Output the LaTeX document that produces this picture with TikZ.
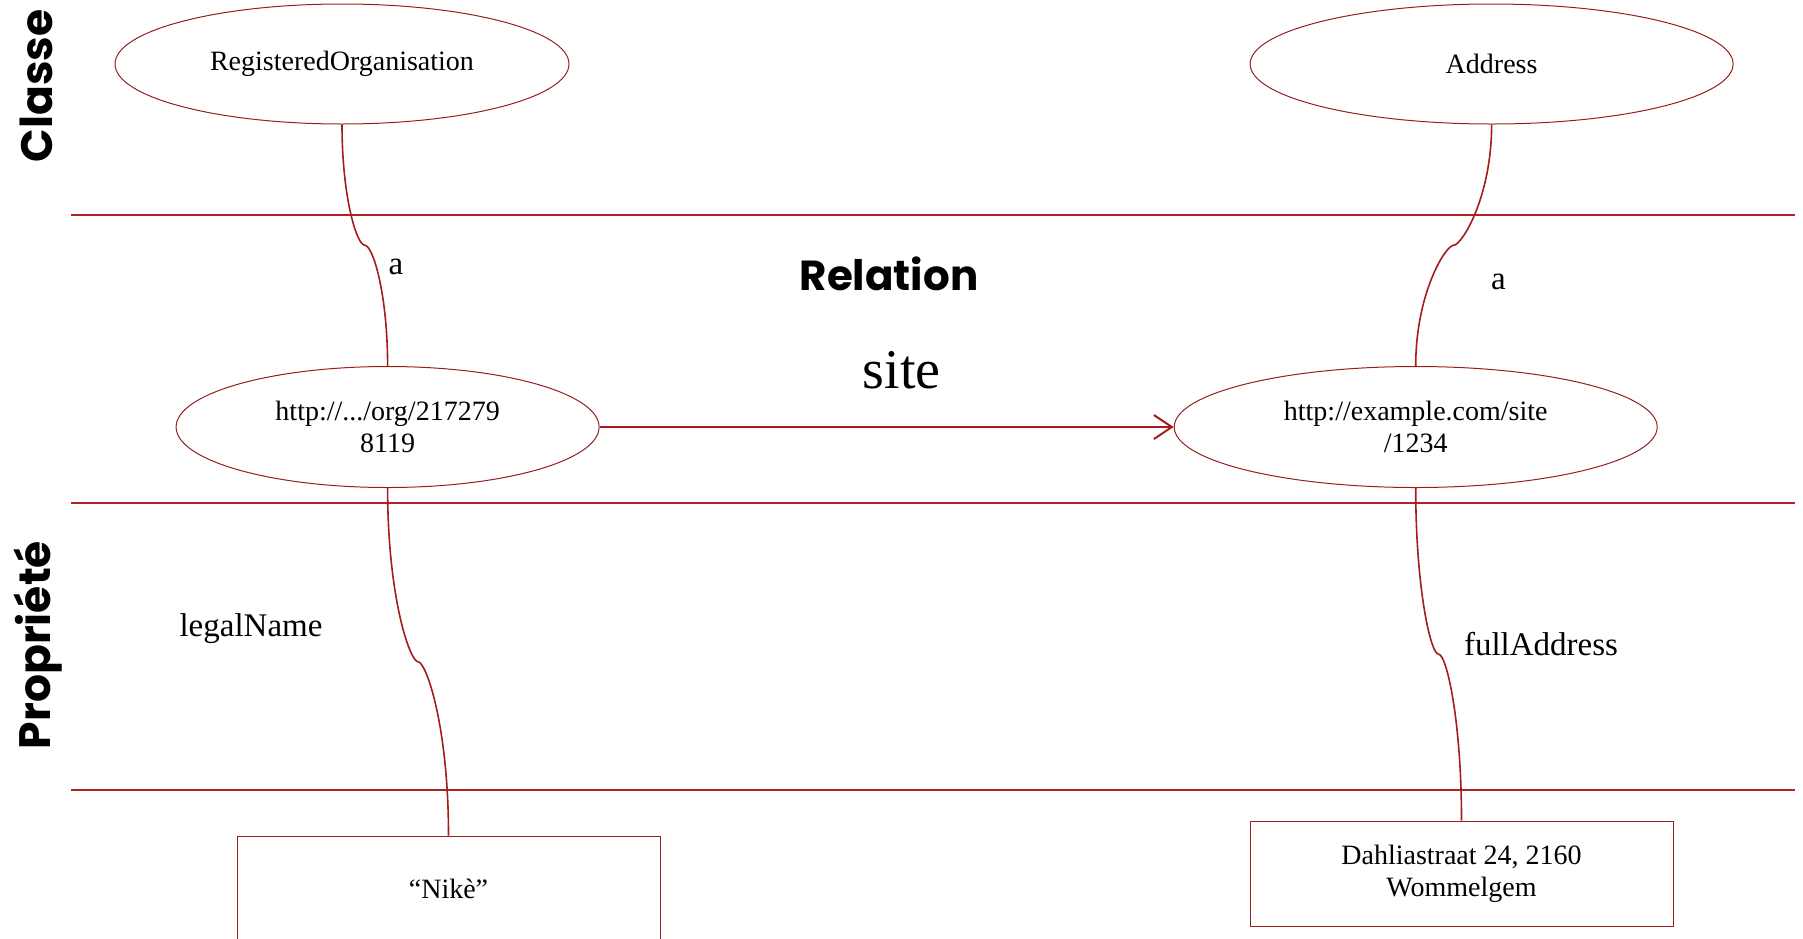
\documentclass[tikz,border=0pt]{standalone}
\usepackage{fontspec}
\setmainfont{Liberation Serif}
\newfontfamily\handfont{Poppins}
\usetikzlibrary{shapes.geometric,arrows.meta,calc}
\definecolor{sepred}{RGB}{178,34,34}
\definecolor{edgered}{RGB}{150,30,30}
\definecolor{linkred}{RGB}{165,28,28}
\begin{document}
\begin{tikzpicture}[x=1pt,y=-1pt,
  cls/.style={ellipse, draw=edgered, line width=1pt, inner sep=0pt, align=center, font=\fontsize{28}{32}\selectfont},
  lit/.style={rectangle, draw=edgered, line width=1pt, inner sep=0pt, align=center, font=\fontsize{28}{32}\selectfont},
  lbl/.style={font=\fontsize{33}{38}\selectfont},
  side/.style={font=\handfont\bfseries\fontsize{44}{48}\selectfont, rotate=90},
  sep/.style={draw=sepred, line width=2pt},
  link/.style={draw=linkred, line width=1.6pt},
]
\useasboundingbox (0,0) rectangle (1803,938);
% separator lines
\draw[sep] (71,215) -- (1795,215);
\draw[sep] (71,502.5) -- (1795,502.5);
\draw[sep] (71,790) -- (1795,790);
% side titles
\node[side] (classe) at (36,86) {Classe};
\node[side] (propriete) at (38,645) {Propriété};
\node[font=\handfont\bfseries\fontsize{42}{46}\selectfont] (relation) at (889,274) {Relation};
% nodes
\node[cls, minimum width=454pt, minimum height=120pt] (ro) at (342,64) {RegisteredOrganisation};
\node[cls, minimum width=483pt, minimum height=120pt] (addr) at (1491.6,64) {Address};
\node[cls, minimum width=423pt, minimum height=121pt] (uri1) at (387.6,427) {http://.../org/217279\\8119};
\node[cls, minimum width=483pt, minimum height=121pt] (uri2) at (1415.7,427) {http://example.com/site\\/1234};
\node[lit, minimum width=423pt, minimum height=106pt] (nike) at (448.5,889) {“Nikè”};
\node[lit, minimum width=423pt, minimum height=105pt] (dahl) at (1461.5,873.5) {Dahliastraat 24, 2160\\Wommelgem};
% labels
\node[lbl] (a1) at (396,267) {a};
\node[lbl] (a2) at (1498.5,281.5) {a};
\node[lbl] (legal) at (251,629) {legalName};
\node[lbl] (full) at (1541,644) {fullAddress};
\node[font=\fontsize{56}{60}\selectfont] (site) at (901.6,370) {site};
% connectors
\coordinate (m1) at ($(ro.south)!0.5!(uri1.north)$);
\coordinate (m2) at ($(addr.south)!0.5!(uri2.north)$);
\coordinate (m3) at ($(uri1.south)!0.5!(nike.north)$);
\coordinate (m4) at ($(uri2.south)!0.5!(dahl.north)$);
\draw[link] (ro.south) .. controls +(0,73) and +(-8,0) .. (m1) .. controls +(8,0) and +(0,-73) .. (uri1.north);
\draw[link] (addr.south) .. controls +(0,73) and +(8,0) .. (m2) .. controls +(-8,0) and +(0,-73) .. (uri2.north);
\draw[link] (uri1.south) .. controls +(0,110) and +(-8,0) .. (m3) .. controls +(8,0) and +(0,-110) .. (nike.north);
\draw[link] (uri2.south) .. controls +(0,100) and +(-8,0) .. (m4) .. controls +(8,0) and +(0,-100) .. (dahl.north);
\draw[link, line width=2pt, -{Straight Barb[length=18pt,width=24pt]}] (uri1.east) -- (uri2.west);
\end{tikzpicture}
\end{document}
